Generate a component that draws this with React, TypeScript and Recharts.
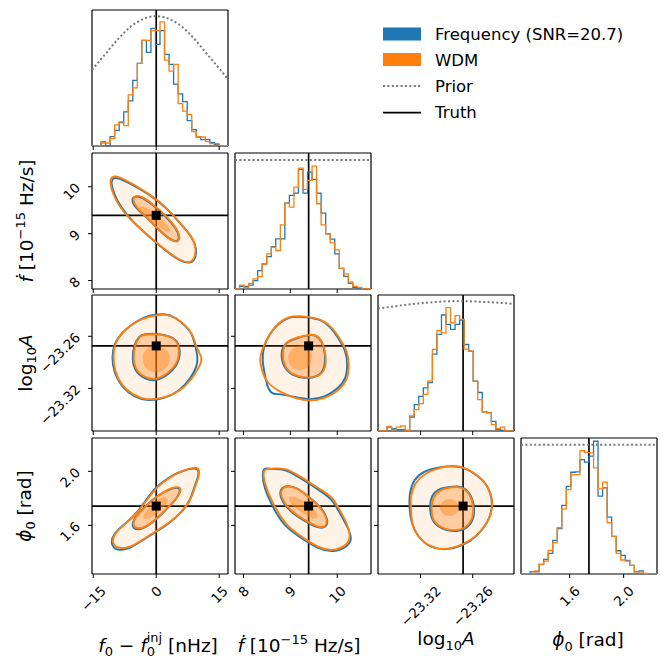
import React from "react";
import { ScatterChart, Scatter, XAxis, YAxis, ReferenceLine } from "recharts";

type Pt = [number, number];

const BLUE = "#1f77b4";
const ORANGE = "#ff7f0e";
const PRIOR_GREY = "#777777";
const FONT = "'DejaVu Sans', sans-serif";
const TICK_FS = 13.5;
const LABEL_FS = 18.5;
const SUB_FS = 13;
const LEGEND_FS = 16.5;

// plotted ranges, injected values and ticks of the four parameters
const F0_RANGE: Pt = [-15.3, 17.1];
const FDOT_RANGE: Pt = [7.82, 10.72];
const LOGA_RANGE: Pt = [-23.369, -23.2125];
const PHI0_RANGE: Pt = [1.24, 2.247];

const F0_TRUTH = 0;
const FDOT_TRUTH = 9.39;
const LOGA_TRUTH = -23.2711;
const PHI0_TRUTH = 1.743;

const F0_TICKS = [-15, 0, 15];
const F0_TICK_LABELS = ["−15", "0", "15"];
const FDOT_TICKS = [8, 9, 10];
const FDOT_TICK_LABELS = ["8", "9", "10"];
const LOGA_TICKS = [-23.32, -23.26];
const LOGA_TICK_LABELS = ["−23.32", "−23.26"];
const PHI0_TICKS = [1.6, 2.0];
const PHI0_TICK_LABELS = ["1.6", "2.0"];

// 1-d marginals: 30 bins across each range, heights relative to the panel
const F0_HIST_FREQ = [0, 0, 0.03, 0, 0.069, 0.115, 0.172, 0.251, 0.332, 0.482, 0.607, 0.776, 0.688, 0.865, 0.747, 0.848, 0.673, 0.6, 0.455, 0.383, 0.327, 0.187, 0.12, 0.066, 0.047, 0.047, 0.025, 0.012, 0, 0];
const F0_HIST_WDM = [0, 0, 0.022, 0.022, 0.054, 0.155, 0.177, 0.15, 0.376, 0.428, 0.607, 0.776, 0.776, 0.848, 0.848, 0.912, 0.631, 0.55, 0.6, 0.312, 0.256, 0.231, 0.106, 0.066, 0.066, 0.032, 0.017, 0.017, 0, 0];
const FDOT_HIST_FREQ = [0, 0.02, 0.02, 0.029, 0.061, 0.135, 0.184, 0.238, 0.312, 0.369, 0.369, 0.631, 0.688, 0.705, 0.88, 0.705, 0.86, 0.806, 0.705, 0.558, 0.405, 0.366, 0.258, 0.152, 0.093, 0.042, 0.012, 0, 0, 0];
const FDOT_HIST_WDM = [0, 0.029, 0.012, 0.042, 0.074, 0.091, 0.184, 0.258, 0.307, 0.283, 0.472, 0.631, 0.602, 0.749, 0.889, 0.732, 0.799, 0.904, 0.627, 0.472, 0.405, 0.339, 0.287, 0.152, 0.111, 0.052, 0.02, 0.012, 0, 0];
const LOGA_HIST_FREQ = [0, 0, 0.029, 0.017, 0.01, 0.01, 0.005, 0.103, 0.194, 0.255, 0.317, 0.356, 0.565, 0.71, 0.853, 0.784, 0.747, 0.784, 0.816, 0.636, 0.587, 0.366, 0.283, 0.14, 0.135, 0.071, 0.012, 0.005, 0, 0];
const LOGA_HIST_WDM = [0, 0, 0.034, 0.01, 0.029, 0.037, 0.005, 0.111, 0.157, 0.201, 0.27, 0.369, 0.6, 0.737, 0.722, 0.907, 0.796, 0.848, 0.821, 0.602, 0.587, 0.366, 0.231, 0.14, 0.133, 0.047, 0.017, 0.029, 0, 0];
const PHI0_HIST_FREQ = [0, 0, 0.015, 0.015, 0.071, 0.108, 0.152, 0.247, 0.333, 0.504, 0.645, 0.748, 0.751, 0.841, 0.822, 0.866, 0.976, 0.572, 0.633, 0.418, 0.276, 0.171, 0.137, 0.1, 0.064, 0.015, 0.022, 0, 0, 0];
const PHI0_HIST_WDM = [0, 0, 0, 0.022, 0.071, 0.095, 0.174, 0.23, 0.34, 0.479, 0.621, 0.731, 0.731, 0.907, 0.895, 0.89, 0.78, 0.626, 0.675, 0.377, 0.276, 0.151, 0.103, 0.095, 0.064, 0.015, 0.015, 0.005, 0, 0];

// prior densities on the same vertical scale
const F0_PRIOR: Pt[] = [[-15.3, 0.56], [-12, 0.68], [-9, 0.79], [-6, 0.88], [-3, 0.935], [0, 0.955], [3, 0.935], [6, 0.88], [9, 0.79], [12, 0.68], [15, 0.57], [17.1, 0.49]];
const FDOT_PRIOR: Pt[] = [[7.82, 0.948], [10.72, 0.948]];
const LOGA_PRIOR: Pt[] = [[-23.369, 0.9], [-23.34, 0.925], [-23.31, 0.945], [-23.28, 0.955], [-23.25, 0.95], [-23.2125, 0.935]];
const PHI0_PRIOR: Pt[] = [[1.24, 0.951], [2.247, 0.951]];

// 2-d credible contours (outer / inner) and the densest core
const F0_FDOT_WDM_OUTER: Pt[] = [[-10.69, 10.234], [-8.7, 10.213], [-5.54, 10.057], [-1.56, 9.844], [2.4, 9.56], [5.58, 9.24], [8.37, 8.957], [9.56, 8.71], [9.15, 8.46], [7.96, 8.37], [5.58, 8.43], [2.4, 8.64], [-1.56, 8.92], [-5.54, 9.24], [-8.7, 9.56], [-10.3, 9.84], [-11.07, 10.09]];
const F0_FDOT_FREQ_OUTER: Pt[] = [[-10.4, 10.2], [-8.6, 10.18], [-5.5, 10.03], [-1.5, 9.83], [2.5, 9.55], [5.7, 9.22], [8.5, 8.94], [9.7, 8.69], [9.3, 8.44], [8.0, 8.36], [5.5, 8.42], [2.3, 8.63], [-1.6, 8.93], [-5.6, 9.25], [-8.6, 9.58], [-10.1, 9.86], [-10.8, 10.08]];
const F0_FDOT_WDM_INNER: Pt[] = [[-5.37, 9.81], [-3.54, 9.81], [-0.78, 9.63], [2.4, 9.38], [4.8, 9.13], [5.75, 8.92], [5.18, 8.81], [3.6, 8.85], [0.82, 9.06], [-2.35, 9.35], [-4.73, 9.56], [-5.54, 9.7]];
const F0_FDOT_FREQ_INNER: Pt[] = [[-5.6, 9.79], [-3.7, 9.8], [-0.9, 9.62], [2.3, 9.37], [4.7, 9.12], [5.6, 8.93], [5.1, 8.82], [3.5, 8.86], [0.7, 9.07], [-2.4, 9.36], [-4.9, 9.55], [-5.8, 9.68]];
const F0_FDOT_CORE: Pt[] = [[-3.94, 9.62], [-1.5, 9.52], [1.5, 9.3], [3.5, 9.1], [3.2, 9.0], [0.5, 9.15], [-2.5, 9.38], [-4.3, 9.52]];

const F0_LOGA_WDM_OUTER: Pt[] = [[2.41, -23.234], [-1.56, -23.2367], [-4.73, -23.2426], [-7.92, -23.2542], [-9.9, -23.2677], [-10.3, -23.2833], [-9.9, -23.3007], [-8.3, -23.3162], [-5.54, -23.3278], [-2.35, -23.3336], [1.6, -23.3316], [5.58, -23.324], [8.37, -23.3103], [10.34, -23.2949], [11.13, -23.2851], [9.56, -23.2735], [8.75, -23.258], [7.18, -23.2484], [4.8, -23.2386]];
const F0_LOGA_FREQ_OUTER: Pt[] = [[2.2, -23.2335], [-1.7, -23.2355], [-5.0, -23.243], [-8.2, -23.2555], [-10.1, -23.269], [-10.6, -23.284], [-10.1, -23.302], [-8.2, -23.3185], [-5.3, -23.33], [-2.0, -23.3345], [1.8, -23.332], [5.6, -23.323], [8.3, -23.308], [9.8, -23.294], [9.9, -23.282], [9.2, -23.27], [8.6, -23.257], [7.0, -23.248], [4.6, -23.2385]];
const F0_LOGA_WDM_INNER: Pt[] = [[-3.15, -23.258], [0.03, -23.2572], [3.2, -23.26], [5.18, -23.2658], [5.58, -23.2813], [4.8, -23.2929], [2.8, -23.3026], [0.03, -23.3103], [-2.35, -23.3084], [-4.73, -23.3007], [-5.54, -23.2871], [-5.13, -23.2697], [-3.94, -23.26]];
const F0_LOGA_FREQ_INNER: Pt[] = [[-3.0, -23.2575], [0.2, -23.2565], [3.4, -23.26], [5.4, -23.2665], [5.8, -23.2815], [5.0, -23.2935], [2.9, -23.304], [0.0, -23.3118], [-2.5, -23.3098], [-5.0, -23.301], [-5.8, -23.287], [-5.3, -23.269], [-4.0, -23.2595]];
const F0_LOGA_CORE: Pt[] = [[-2.5, -23.272], [1.0, -23.27], [3.2, -23.278], [3.5, -23.29], [2.0, -23.3], [-0.5, -23.303], [-2.8, -23.297], [-3.5, -23.285]];

const FDOT_LOGA_WDM_OUTER: Pt[] = [[9.367, -23.2374], [9.047, -23.2359], [8.761, -23.2426], [8.547, -23.258], [8.406, -23.2735], [8.334, -23.2871], [8.406, -23.3007], [8.476, -23.3123], [8.761, -23.324], [9.118, -23.3316], [9.403, -23.3348], [9.759, -23.3316], [10.044, -23.322], [10.222, -23.3103], [10.256, -23.2929], [10.222, -23.2774], [10.044, -23.2619], [9.902, -23.2502], [9.688, -23.2406]];
const FDOT_LOGA_FREQ_OUTER: Pt[] = [[9.36, -23.238], [9.05, -23.2365], [8.75, -23.244], [8.53, -23.259], [8.42, -23.274], [8.4, -23.288], [8.45, -23.302], [8.5, -23.317], [8.6, -23.327], [8.75, -23.326], [9.1, -23.33], [9.42, -23.3335], [9.75, -23.33], [10.02, -23.32], [10.19, -23.309], [10.22, -23.2925], [10.19, -23.277], [10.02, -23.262], [9.88, -23.2505], [9.68, -23.241]];
const FDOT_LOGA_WDM_INNER: Pt[] = [[9.403, -23.258], [9.154, -23.2612], [8.904, -23.2658], [8.819, -23.2793], [8.868, -23.2949], [9.047, -23.3045], [9.331, -23.3084], [9.616, -23.3065], [9.759, -23.2968], [9.759, -23.2813], [9.688, -23.2658], [9.545, -23.258]];
const FDOT_LOGA_FREQ_INNER: Pt[] = [[9.4, -23.2585], [9.14, -23.262], [8.88, -23.267], [8.79, -23.28], [8.85, -23.2955], [9.04, -23.3055], [9.33, -23.309], [9.6, -23.3065], [9.74, -23.2965], [9.75, -23.281], [9.68, -23.2655], [9.54, -23.2582]];
const FDOT_LOGA_CORE: Pt[] = [[9.2, -23.27], [8.98, -23.275], [8.93, -23.288], [9.05, -23.298], [9.25, -23.3], [9.45, -23.293], [9.48, -23.279], [9.38, -23.27]];

const F0_PHI0_WDM_OUTER: Pt[] = [[9.15, 2.032], [10.34, 2.0195], [10.18, 1.957], [9.15, 1.882], [8.37, 1.795], [6.37, 1.708], [3.2, 1.62], [0.03, 1.558], [-3.15, 1.495], [-6.32, 1.433], [-9.11, 1.428], [-10.68, 1.47], [-9.9, 1.545], [-7.51, 1.608], [-4.73, 1.682], [-2.35, 1.783], [0.03, 1.882], [3.2, 1.957], [6.37, 2.007]];
const F0_PHI0_FREQ_OUTER: Pt[] = [[9.0, 2.025], [10.2, 2.015], [10.0, 1.955], [9.0, 1.88], [8.2, 1.79], [6.2, 1.7], [3.0, 1.612], [-0.2, 1.55], [-3.4, 1.487], [-6.6, 1.422], [-9.4, 1.412], [-10.9, 1.46], [-10.2, 1.54], [-7.7, 1.605], [-4.9, 1.68], [-2.5, 1.785], [-0.1, 1.885], [3.1, 1.96], [6.2, 2.005]];
const F0_PHI0_WDM_INNER: Pt[] = [[5.58, 1.887], [5.99, 1.857], [4.8, 1.795], [2.8, 1.733], [0.41, 1.658], [-1.97, 1.596], [-4.35, 1.57], [-5.68, 1.596], [-5.13, 1.658], [-3.15, 1.72], [-0.78, 1.795], [1.6, 1.845], [3.99, 1.882]];
const F0_PHI0_FREQ_INNER: Pt[] = [[5.5, 1.88], [5.8, 1.852], [4.7, 1.79], [2.7, 1.728], [0.3, 1.652], [-2.1, 1.59], [-4.5, 1.562], [-5.9, 1.59], [-5.3, 1.655], [-3.3, 1.718], [-0.9, 1.792], [1.5, 1.842], [3.9, 1.878]];
const F0_PHI0_CORE: Pt[] = [[2.4, 1.81], [3.0, 1.78], [1.5, 1.72], [-1.5, 1.65], [-3.3, 1.64], [-3.0, 1.69], [-0.5, 1.77], [1.2, 1.81]];

const FDOT_PHI0_WDM_OUTER: Pt[] = [[8.44, 2.0195], [8.62, 2.0195], [8.868, 2.027], [9.118, 1.982], [9.403, 1.92], [9.688, 1.857], [9.902, 1.807], [10.044, 1.72], [10.222, 1.607], [10.293, 1.508], [10.186, 1.446], [9.902, 1.408], [9.616, 1.433], [9.331, 1.495], [9.118, 1.545], [8.904, 1.607], [8.761, 1.682], [8.62, 1.77], [8.476, 1.882], [8.419, 1.97]];
const FDOT_PHI0_FREQ_OUTER: Pt[] = [[8.43, 2.03], [8.6, 2.015], [8.85, 2.02], [9.1, 1.975], [9.39, 1.912], [9.66, 1.85], [9.87, 1.8], [10.02, 1.715], [10.2, 1.6], [10.33, 1.505], [10.22, 1.44], [9.92, 1.4], [9.6, 1.425], [9.31, 1.488], [9.09, 1.54], [8.87, 1.602], [8.72, 1.678], [8.58, 1.768], [8.44, 1.88], [8.4, 1.975]];
const FDOT_PHI0_WDM_INNER: Pt[] = [[8.797, 1.87], [8.94, 1.895], [9.154, 1.877], [9.403, 1.807], [9.652, 1.733], [9.795, 1.645], [9.759, 1.588], [9.616, 1.583], [9.403, 1.62], [9.154, 1.67], [8.94, 1.733], [8.797, 1.807]];
const FDOT_PHI0_FREQ_INNER: Pt[] = [[8.78, 1.872], [8.93, 1.898], [9.15, 1.88], [9.4, 1.81], [9.66, 1.735], [9.81, 1.644], [9.77, 1.584], [9.61, 1.578], [9.39, 1.615], [9.14, 1.665], [8.92, 1.73], [8.78, 1.805]];
const FDOT_PHI0_CORE: Pt[] = [[9.0, 1.82], [9.2, 1.8], [9.5, 1.73], [9.62, 1.66], [9.5, 1.64], [9.25, 1.69], [9.02, 1.75], [8.95, 1.8]];

const LOGA_PHI0_WDM_OUTER: Pt[] = [[-23.283, 2.045], [-23.298, 2.027], [-23.3132, 1.995], [-23.3263, 1.92], [-23.332, 1.82], [-23.3309, 1.708], [-23.3302, 1.596], [-23.3207, 1.495], [-23.3056, 1.428], [-23.2886, 1.42], [-23.2697, 1.458], [-23.2527, 1.533], [-23.2414, 1.633], [-23.2365, 1.733], [-23.2388, 1.845], [-23.2471, 1.933], [-23.2622, 2.007], [-23.2716, 2.032]];
const LOGA_PHI0_FREQ_OUTER: Pt[] = [[-23.285, 2.04], [-23.3, 2.03], [-23.316, 2.005], [-23.328, 1.94], [-23.333, 1.84], [-23.333, 1.73], [-23.331, 1.62], [-23.323, 1.51], [-23.309, 1.435], [-23.291, 1.415], [-23.271, 1.448], [-23.254, 1.525], [-23.242, 1.627], [-23.237, 1.73], [-23.239, 1.842], [-23.247, 1.932], [-23.262, 2.003], [-23.272, 2.03]];
const LOGA_PHI0_WDM_INNER: Pt[] = [[-23.2849, 1.882], [-23.2962, 1.87], [-23.3056, 1.82], [-23.3082, 1.72], [-23.3056, 1.62], [-23.2924, 1.57], [-23.2773, 1.558], [-23.2641, 1.596], [-23.2584, 1.682], [-23.2603, 1.795], [-23.2679, 1.87], [-23.2773, 1.887]];
const LOGA_PHI0_FREQ_INNER: Pt[] = [[-23.2855, 1.886], [-23.2985, 1.876], [-23.308, 1.822], [-23.31, 1.718], [-23.306, 1.612], [-23.292, 1.562], [-23.2765, 1.552], [-23.263, 1.592], [-23.2572, 1.684], [-23.2595, 1.797], [-23.2675, 1.874], [-23.2775, 1.892]];
const LOGA_PHI0_CORE: Pt[] = [[-23.29, 1.8], [-23.298, 1.76], [-23.298, 1.7], [-23.289, 1.66], [-23.278, 1.68], [-23.275, 1.74], [-23.28, 1.79]];

const LEGEND_LABELS = ["Frequency (SNR=20.7)", "WDM", "Prior", "Truth"];

const PARAMS = [
  { range: F0_RANGE, truth: F0_TRUTH, ticks: F0_TICKS, tickLabels: F0_TICK_LABELS, hist: [F0_HIST_FREQ, F0_HIST_WDM], prior: F0_PRIOR },
  { range: FDOT_RANGE, truth: FDOT_TRUTH, ticks: FDOT_TICKS, tickLabels: FDOT_TICK_LABELS, hist: [FDOT_HIST_FREQ, FDOT_HIST_WDM], prior: FDOT_PRIOR },
  { range: LOGA_RANGE, truth: LOGA_TRUTH, ticks: LOGA_TICKS, tickLabels: LOGA_TICK_LABELS, hist: [LOGA_HIST_FREQ, LOGA_HIST_WDM], prior: LOGA_PRIOR },
  { range: PHI0_RANGE, truth: PHI0_TRUTH, ticks: PHI0_TICKS, tickLabels: PHI0_TICK_LABELS, hist: [PHI0_HIST_FREQ, PHI0_HIST_WDM], prior: PHI0_PRIOR },
];

const PAIRS = [
  { row: 1, col: 0, freq: [F0_FDOT_FREQ_OUTER, F0_FDOT_FREQ_INNER], wdm: [F0_FDOT_WDM_OUTER, F0_FDOT_WDM_INNER], core: F0_FDOT_CORE },
  { row: 2, col: 0, freq: [F0_LOGA_FREQ_OUTER, F0_LOGA_FREQ_INNER], wdm: [F0_LOGA_WDM_OUTER, F0_LOGA_WDM_INNER], core: F0_LOGA_CORE },
  { row: 2, col: 1, freq: [FDOT_LOGA_FREQ_OUTER, FDOT_LOGA_FREQ_INNER], wdm: [FDOT_LOGA_WDM_OUTER, FDOT_LOGA_WDM_INNER], core: FDOT_LOGA_CORE },
  { row: 3, col: 0, freq: [F0_PHI0_FREQ_OUTER, F0_PHI0_FREQ_INNER], wdm: [F0_PHI0_WDM_OUTER, F0_PHI0_WDM_INNER], core: F0_PHI0_CORE },
  { row: 3, col: 1, freq: [FDOT_PHI0_FREQ_OUTER, FDOT_PHI0_FREQ_INNER], wdm: [FDOT_PHI0_WDM_OUTER, FDOT_PHI0_WDM_INNER], core: FDOT_PHI0_CORE },
  { row: 3, col: 2, freq: [LOGA_PHI0_FREQ_OUTER, LOGA_PHI0_FREQ_INNER], wdm: [LOGA_PHI0_WDM_OUTER, LOGA_PHI0_WDM_INNER], core: LOGA_PHI0_CORE },
];

// grid geometry
const COL_LEFT = [92, 235, 378, 521];
const ROW_TOP = [10, 153, 295, 438];
const SIZE = 136;

const toXY = (pts: Pt[]) => pts.map(([x, y]) => ({ x, y }));

// outline of a step histogram over evenly spaced bins
function stepOutline(range: Pt, heights: number[]): Pt[] {
  const [lo, hi] = range;
  const w = (hi - lo) / heights.length;
  const pts: Pt[] = [[lo, 0]];
  heights.forEach((h, i) => {
    pts.push([lo + i * w, h], [lo + (i + 1) * w, h]);
  });
  pts.push([hi, 0]);
  return pts;
}

// rough rendered size of a 45° rotated tick label
const CHAR_W: Record<string, number> = { "−": 0.838, ".": 0.318 };
function rotatedExtent(label: string) {
  const w = [...label].reduce((s, c) => s + (CHAR_W[c] ?? 0.636), 0) * TICK_FS;
  return (w + 0.73 * TICK_FS) * Math.SQRT1_2;
}

function BottomTick(props: any) {
  const { x, y, payload, ticks, labels } = props;
  const label = labels[ticks.indexOf(payload.value)] ?? "";
  const cy = y + 7 + rotatedExtent(label) / 2;
  return (
    <text x={x} y={cy} transform={`rotate(-45 ${x} ${cy})`} textAnchor="middle" dominantBaseline="central"
      fontSize={TICK_FS} fontFamily={FONT} fill="#000">
      {label}
    </text>
  );
}

function LeftTick(props: any) {
  const { x, y, payload, ticks, labels } = props;
  const label = labels[ticks.indexOf(payload.value)] ?? "";
  const s = rotatedExtent(label);
  const cx = x - 7 - s / 2;
  const cy = y - 5 + s / 2;
  return (
    <text x={cx} y={cy} transform={`rotate(-45 ${cx} ${cy})`} textAnchor="middle" dominantBaseline="central"
      fontSize={TICK_FS} fontFamily={FONT} fill="#000">
      {label}
    </text>
  );
}

const EmptyTick = () => <g />;
const NoDot = () => <g />;
const TruthSquare = (p: any) => <rect x={p.cx - 4.5} y={p.cy - 4.5} width={9} height={9} fill="#000" />;

function outline(key: string, pts: Pt[], color: string, width: number, curve = "basisClosed", dash?: string) {
  return (
    <Scatter key={key} data={toXY(pts)} shape={NoDot} lineType="joint" lineJointType={curve as any}
      line={{ stroke: color, strokeWidth: width, strokeDasharray: dash, fill: "none" }} isAnimationActive={false} />
  );
}

function shade(key: string, pts: Pt[], opacity: number) {
  return (
    <Scatter key={key} data={toXY(pts)} shape={NoDot} lineType="joint" lineJointType="basisClosed"
      line={{ stroke: "none", fill: ORANGE, fillOpacity: opacity }} isAnimationActive={false} />
  );
}

const AXIS_LINE = { stroke: "#000", strokeWidth: 1.2 };

function Panel({ row, col, children }: { row: number; col: number; children: React.ReactNode }) {
  const px = PARAMS[col];
  const py = PARAMS[row];
  const diag = row === col;
  const xLabels = row === 3;
  const yLabels = col === 0 && row > 0;
  const padLeft = yLabels ? 92 : 6;
  const padBottom = xLabels ? 72 : 6;
  const padRight = xLabels ? 16 : 0;
  const yDomain = diag ? [0, 1] : py.range;

  return (
    <div style={{ position: "absolute", left: COL_LEFT[col] - padLeft, top: ROW_TOP[row] - 1 }}>
      <ScatterChart width={padLeft + SIZE + 1 + padRight} height={1 + SIZE + padBottom}
        margin={{ top: 0, right: padRight, bottom: 0, left: 0 }}>
        <XAxis xAxisId="frame" orientation="top" type="number" domain={px.range} allowDataOverflow height={1}
          tick={false} tickLine={false} axisLine={AXIS_LINE} />
        <YAxis yAxisId="frame" orientation="right" type="number" domain={yDomain} allowDataOverflow width={1}
          tick={false} tickLine={false} axisLine={AXIS_LINE} />
        <XAxis type="number" dataKey="x" domain={px.range} ticks={px.ticks} interval={0} allowDataOverflow
          height={padBottom} tickSize={4} tickMargin={0} stroke="#000" axisLine={AXIS_LINE}
          tick={xLabels ? <BottomTick ticks={px.ticks} labels={px.tickLabels} /> : <EmptyTick />} />
        <YAxis type="number" dataKey="y" domain={yDomain} ticks={diag ? [0.5] : py.ticks} interval={0} allowDataOverflow
          width={padLeft} tickSize={4} tickMargin={0} stroke="#000" axisLine={AXIS_LINE} tickLine={!diag}
          tick={yLabels ? <LeftTick ticks={py.ticks} labels={py.tickLabels} /> : <EmptyTick />} />
        {children}
      </ScatterChart>
    </div>
  );
}

function Marginal({ idx }: { idx: number }) {
  const p = PARAMS[idx];
  const curved = p.prior.length > 2;
  return (
    <Panel row={idx} col={idx}>
      {outline("freq", stepOutline(p.range, p.hist[0]), BLUE, 1.3, "linear")}
      {outline("wdm", stepOutline(p.range, p.hist[1]), ORANGE, 1.3, "linear")}
      {outline("prior", p.prior, PRIOR_GREY, 2, curved ? "monotone" : "linear", "2 2.4")}
      <ReferenceLine x={p.truth} stroke="#000" strokeWidth={1.7} />
    </Panel>
  );
}

function Joint({ pair }: { pair: (typeof PAIRS)[number] }) {
  const px = PARAMS[pair.col];
  const py = PARAMS[pair.row];
  return (
    <Panel row={pair.row} col={pair.col}>
      {shade("s-outer", pair.wdm[0], 0.1)}
      {shade("s-inner", pair.wdm[1], 0.32)}
      {shade("s-core", pair.core, 0.4)}
      {outline("f-outer", pair.freq[0], BLUE, 1.9)}
      {outline("f-inner", pair.freq[1], BLUE, 1.9)}
      {outline("w-outer", pair.wdm[0], ORANGE, 1.9)}
      {outline("w-inner", pair.wdm[1], ORANGE, 1.9)}
      <ReferenceLine x={px.truth} stroke="#000" strokeWidth={1.7} />
      <ReferenceLine y={py.truth} stroke="#000" strokeWidth={1.7} />
      <Scatter data={[{ x: px.truth, y: py.truth }]} shape={TruthSquare} isAnimationActive={false} />
    </Panel>
  );
}

function AxisTitles() {
  const rows = [221, 363, 506];
  return (
    <svg width={667} height={669} style={{ position: "absolute", left: 0, top: 0 }} fontFamily={FONT} fill="#000">
      {/* legend */}
      <rect x={383} y={27.5} width={38} height={13} fill={BLUE} />
      <rect x={383} y={53} width={38} height={13} fill={ORANGE} />
      <line x1={383} x2={421} y1={86} y2={86} stroke={PRIOR_GREY} strokeWidth={2} strokeDasharray="2 2.4" />
      <line x1={383} x2={421} y1={112.7} y2={112.7} stroke="#000" strokeWidth={1.7} />
      {LEGEND_LABELS.map((t, i) => (
        <text key={t} x={435} y={39.5 + i * 26.2} fontSize={LEGEND_FS}>{t}</text>
      ))}

      {/* x labels */}
      <text x={158} y={651.7} textAnchor="middle" fontSize={LABEL_FS}>
        <tspan fontStyle="italic">f</tspan>
        <tspan fontSize={SUB_FS} dy={4.5}>0</tspan>
        <tspan dy={-4.5}>{" − "}</tspan>
        <tspan fontStyle="italic">f</tspan>
        <tspan fontSize={SUB_FS} dy={4.5}>0</tspan>
        <tspan fontSize={SUB_FS} dx={-8.3} dy={-14}>inj</tspan>
        <tspan dy={9.5}>{" [nHz]"}</tspan>
      </text>
      <text x={299} y={651.7} textAnchor="middle" fontSize={LABEL_FS}>
        <tspan fontStyle="italic">ḟ</tspan>
        <tspan>{" [10"}</tspan>
        <tspan fontSize={SUB_FS} dy={-8}>−15</tspan>
        <tspan dy={8}>{" Hz/s]"}</tspan>
      </text>
      <text x={446} y={645} textAnchor="middle" fontSize={LABEL_FS}>
        <tspan>log</tspan>
        <tspan fontSize={SUB_FS} dy={4.5}>10</tspan>
        <tspan fontStyle="italic" dy={-4.5}>A</tspan>
      </text>
      <text x={588} y={646} textAnchor="middle" fontSize={LABEL_FS}>
        <tspan fontStyle="italic">ϕ</tspan>
        <tspan fontSize={SUB_FS} dy={4.5}>0</tspan>
        <tspan dy={-4.5}>{" [rad]"}</tspan>
      </text>

      {/* y labels */}
      <text x={33} y={rows[0]} transform={`rotate(-90 33 ${rows[0]})`} textAnchor="middle" fontSize={LABEL_FS}>
        <tspan fontStyle="italic">ḟ</tspan>
        <tspan>{" [10"}</tspan>
        <tspan fontSize={SUB_FS} dy={-8}>−15</tspan>
        <tspan dy={8}>{" Hz/s]"}</tspan>
      </text>
      <text x={31.5} y={rows[1]} transform={`rotate(-90 31.5 ${rows[1]})`} textAnchor="middle" fontSize={LABEL_FS}>
        <tspan>log</tspan>
        <tspan fontSize={SUB_FS} dy={4.5}>10</tspan>
        <tspan fontStyle="italic" dy={-4.5}>A</tspan>
      </text>
      <text x={30.5} y={rows[2]} transform={`rotate(-90 30.5 ${rows[2]})`} textAnchor="middle" fontSize={LABEL_FS}>
        <tspan fontStyle="italic">ϕ</tspan>
        <tspan fontSize={SUB_FS} dy={4.5}>0</tspan>
        <tspan dy={-4.5}>{" [rad]"}</tspan>
      </text>
    </svg>
  );
}

export default function App() {
  return (
    <div style={{ position: "absolute", left: 0, top: 0, width: 667, height: 669, background: "#fff", fontFamily: FONT }}>
      {PARAMS.map((_, i) => (
        <Marginal key={`m${i}`} idx={i} />
      ))}
      {PAIRS.map((pair) => (
        <Joint key={`j${pair.row}${pair.col}`} pair={pair} />
      ))}
      <AxisTitles />
    </div>
  );
}
